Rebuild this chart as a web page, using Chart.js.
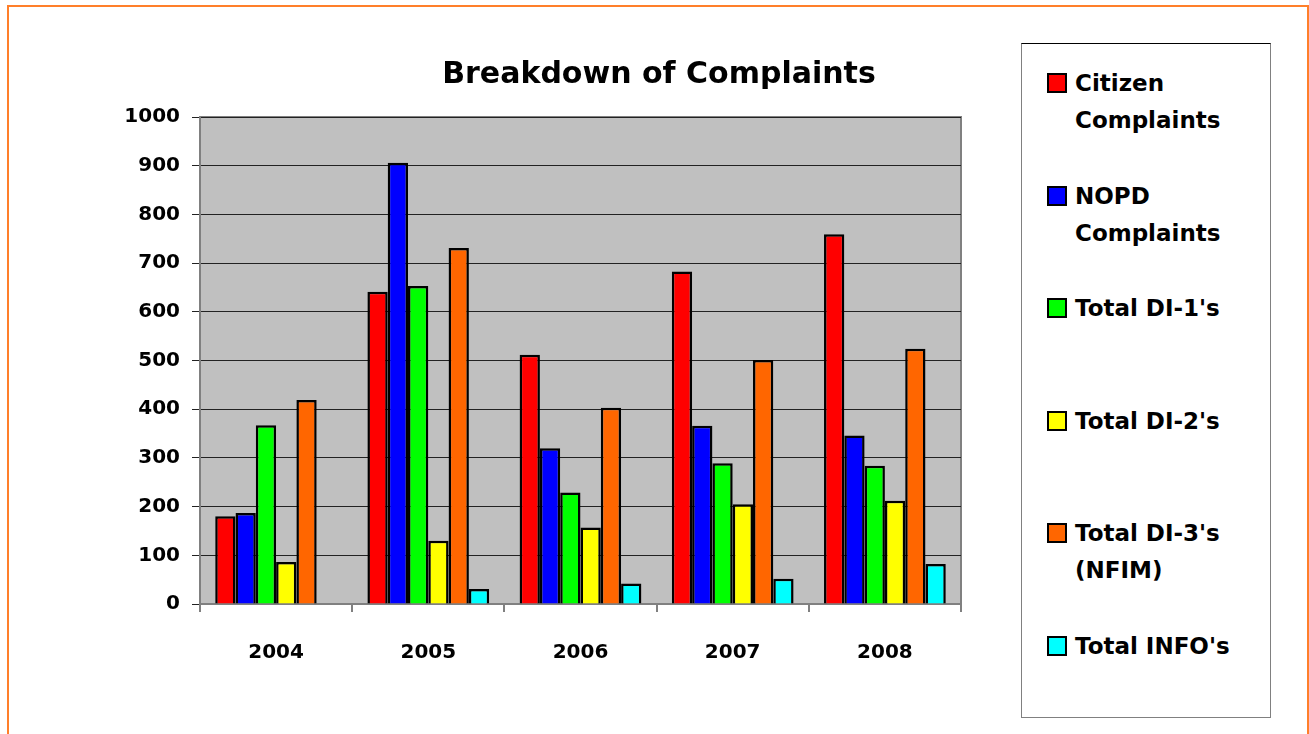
<!DOCTYPE html>
<html lang="en">

<head>
    <meta charset="UTF-8">
    <title>Breakdown of Complaints</title>
    <script src="https://cdn.jsdelivr.net/npm/chart.js"></script>
    <style>
        body { margin: 0; background: #fff; font-family: "Comic Sans MS", "DejaVu Sans", sans-serif; }
        #frame { position: absolute; left: 7px; top: 5px; width: 1298px; height: 800px; border: 2px solid #ff7f2a; border-bottom: none; }
        #wrap { position: absolute; left: 0; top: 0; width: 1000px; height: 734px; }
        #legend { position: absolute; left: 1021px; top: 43px; width: 248px; height: 673px; border: 1px solid #808080; border-top-color: #000; background: #fff; }
        .item { position: absolute; left: 25px; font-weight: bold; font-size: 23px; line-height: 37px; color: #000; }
        .sw { position: absolute; left: 0; top: 8px; width: 16px; height: 16px; border: 2px solid #000; }
        .txt { margin-left: 28px; white-space: nowrap; }
    </style>
</head>

<body>
    <div id="frame"></div>
    <div id="wrap"><canvas id="myChart" width="1000" height="734"></canvas></div>
    <div id="legend"></div>
    <script>
        const years = ['2004', '2005', '2006', '2007', '2008'];
        const seriesNames = [['Citizen', 'Complaints'], ['NOPD', 'Complaints'], ["Total DI-1's"], ["Total DI-2's"], ["Total DI-3's", '(NFIM)'], ["Total INFO's"]];
        const citizen = [180, 641, 512, 683, 759];
        const nopd = [187, 906, 320, 366, 346];
        const di1 = [367, 653, 229, 289, 284];
        const di2 = [86, 130, 157, 205, 212];
        const di3 = [419, 731, 403, 501, 524];
        const info = [null, 31, 42, 52, 82];
        const yTicks = [0, 100, 200, 300, 400, 500, 600, 700, 800, 900, 1000];
        const colors = ['#ff0000', '#0000ff', '#00ff00', '#ffff00', '#ff6600', '#00ffff'];
        const titleText = 'Breakdown of Complaints';

        const allSeries = [citizen, nopd, di1, di2, di3, info];

        // legend box on the right, built from the names
        const legend = document.getElementById('legend');
        seriesNames.forEach((lines, i) => {
            const d = document.createElement('div');
            d.className = 'item';
            d.style.top = (21 + i * 112.5) + 'px';
            d.innerHTML = '<div class="sw" style="background:' + colors[i] + '"></div><div class="txt">' + lines.join('<br>') + '</div>';
            legend.appendChild(d);
        });

        const font = { family: '"Comic Sans MS", "DejaVu Sans", sans-serif', weight: 'bold', size: 20 };

        // grey plot background + frame, and the title (sits right of centre in the original)
        const plotBg = {
            id: 'plotBg',
            beforeDraw(chart) {
                const a = chart.chartArea, c = chart.ctx;
                c.save();
                c.fillStyle = '#c0c0c0';
                c.fillRect(a.left, a.top, a.right - a.left, a.bottom - a.top);
                c.strokeStyle = '#808080';
                c.lineWidth = 2;
                c.beginPath();
                c.moveTo(a.left, a.top);
                c.lineTo(a.right, a.top);
                c.lineTo(a.right, a.bottom);
                c.stroke();
                c.fillStyle = '#000';
                c.font = 'bold 30px ' + font.family;
                c.textAlign = 'center';
                c.textBaseline = 'middle';
                c.fillText(titleText, 659, 75);
                c.restore();
            }
        };

        new Chart(document.getElementById('myChart'), {
            type: 'bar',
            data: {
                labels: years,
                datasets: allSeries.map((vals, i) => ({
                    label: seriesNames[i].join(' '),
                    data: vals,
                    backgroundColor: colors[i],
                    borderColor: '#000',
                    borderWidth: 2.5,
                    barPercentage: 1.0,
                    categoryPercentage: 0.8
                }))
            },
            plugins: [plotBg],
            options: {
                responsive: false,
                animation: false,
                layout: { padding: { left: 0, right: 39, top: 117, bottom: 70 } },
                plugins: {
                    legend: { display: false },
                    tooltip: { enabled: false },
                    title: { display: false }
                },
                scales: {
                    x: {
                        afterFit(s) { s.height = 60; },
                        grid: { offset: true, drawOnChartArea: false, drawTicks: true, tickLength: 8, color: '#808080', lineWidth: 2 },
                        border: { color: '#808080', width: 2 },
                        ticks: { color: '#000', font: font, padding: 29 }
                    },
                    y: {
                        min: 0,
                        max: 1000,
                        afterFit(s) { s.width = 200; },
                        afterBuildTicks(s) { s.ticks = yTicks.map(v => ({ value: v })); },
                        grid: { color: '#222', lineWidth: 1, tickLength: 8, drawTicks: true },
                        border: { color: '#808080', width: 2 },
                        ticks: { color: '#000', font: font, padding: 12, callback: v => String(v) }
                    }
                }
            }
        });
    </script>
</body>

</html>
